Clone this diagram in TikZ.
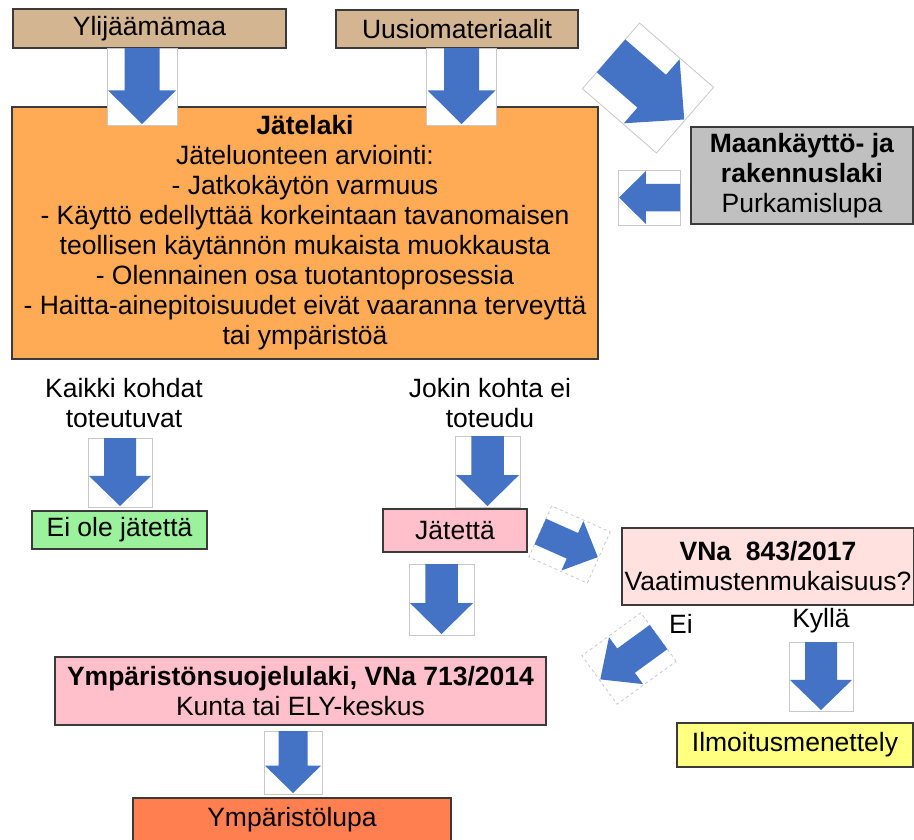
\documentclass[tikz,border=0pt]{standalone}
\usepackage{fontspec}
\setmainfont{Liberation Sans}
\definecolor{ink}{HTML}{3A3A3A}
\definecolor{sand}{HTML}{D4B591}
\definecolor{orng}{HTML}{FFAA55}
\definecolor{stone}{HTML}{C0C0C0}
\definecolor{mint}{HTML}{9CF19C}
\definecolor{rose}{HTML}{FFC0CB}
\definecolor{blush}{HTML}{FFE1DF}
\definecolor{lemon}{HTML}{FFFF80}
\definecolor{coral}{HTML}{FF7F50}
\definecolor{arrblue}{HTML}{4472C4}
\definecolor{rim}{HTML}{C8C8C8}
\tikzset{box/.style={draw=ink,line width=1.6pt,align=center,font=\fontsize{26.5}{30}\selectfont,inner sep=0pt}, lbl/.style={align=center,font=\fontsize{26.5}{30}\selectfont,inner sep=0pt}, frm/.style={draw=rim,line width=0.8pt,fill=white}, pics/blkarrow/.style 2 args={code={\draw[frm] (-#1/2,-#2/2) rectangle (#1/2,#2/2);
\fill[arrblue] (-#1/2,-#2/4) -- (#1/20,-#2/4) -- (#1/20,-#2/2+1) -- (#1/2-1,0) -- (#1/20,#2/2-1) -- (#1/20,#2/4) -- (-#1/2,#2/4) -- cycle;}}}

\begin{document}
\begin{tikzpicture}[x=1pt,y=-1pt]
\useasboundingbox (0,0) rectangle (914,839);
% top row
\node[box,fill=sand,minimum width=273pt,minimum height=39pt] (ylij) at (149.5,28.5) {Ylijäämämaa};
\node[box,fill=sand,minimum width=242pt,minimum height=38pt] (uusio) at (457,29) {Uusiomateriaalit};
\node[box,fill=orng,minimum width=586pt,minimum height=252pt] (jlaki) at (305,233) {\textbf{Jätelaki}\\Jäteluonteen arviointi:\\- Jatkokäytön varmuus\\- Käyttö edellyttää korkeintaan tavanomaisen\\teollisen käytännön mukaista muokkausta\\- Olennainen osa tuotantoprosessia\\- Haitta-ainepitoisuudet eivät vaaranna terveyttä\\tai ympäristöä};
\node[box,fill=stone,minimum width=222pt,minimum height=97pt] (mrl) at (802,175.5) {\textbf{Maankäyttö- ja}\\\textbf{rakennuslaki}\\Purkamislupa};
% outcomes
\node[lbl] (kaikki) at (124,403) {Kaikki kohdat\\toteutuvat};
\node[lbl] (jokin) at (490,403) {Jokin kohta ei\\toteudu};
\node[box,fill=mint,minimum width=175pt,minimum height=38pt] (eiole) at (119.5,530) {Ei ole jätettä};
\node[box,fill=rose,minimum width=144pt,minimum height=43pt] (jatetta) at (455,530.5) {Jätettä};
\node[box,fill=blush,minimum width=292pt,minimum height=77pt] (vna) at (768,566.5) {\textbf{VNa\ \ 843/2017}\\Vaatimustenmukaisuus?};
\node[lbl] (ei) at (681,624) {Ei};
\node[lbl] (kylla) at (821,621) {Kyllä};
\node[box,fill=lemon,minimum width=236pt,minimum height=44pt] (ilmo) at (795,745) {Ilmoitusmenettely};
\node[box,fill=rose,minimum width=491pt,minimum height=68pt] (ysl) at (300.5,691) {\textbf{Ympäristönsuojelulaki, VNa 713/2014}\\Kunta tai ELY-keskus};
\node[box,fill=coral,minimum width=318pt,minimum height=44pt] (lupa) at (292,820) {Ympäristölupa};
% block arrows
\pic[rotate=-90] at (142,86.5) {blkarrow={77}{70}};
\pic[rotate=-90] at (461.5,86.5) {blkarrow={77}{70}};
\pic[rotate=-41] at (648,88) {blkarrow={98}{87}};
\pic[rotate=180] at (649,197.5) {blkarrow={62}{55}};
\pic[rotate=-90] at (120,472.5) {blkarrow={69}{64}};
\pic[rotate=-90] at (487.5,471.5) {blkarrow={71}{65}};
\pic[rotate=-24,frm/.append style=dashed] at (569.5,544.5) {blkarrow={64}{56}};
\pic[rotate=-90] at (441.5,599.5) {blkarrow={71}{65}};
\pic[rotate=-144,frm/.append style=dashed] at (629,658.5) {blkarrow={73}{60}};
\pic[rotate=-90] at (821,676.5) {blkarrow={69}{64}};
\pic[rotate=-90] at (293,762.5) {blkarrow={63}{58}};
\end{tikzpicture}
\end{document}
